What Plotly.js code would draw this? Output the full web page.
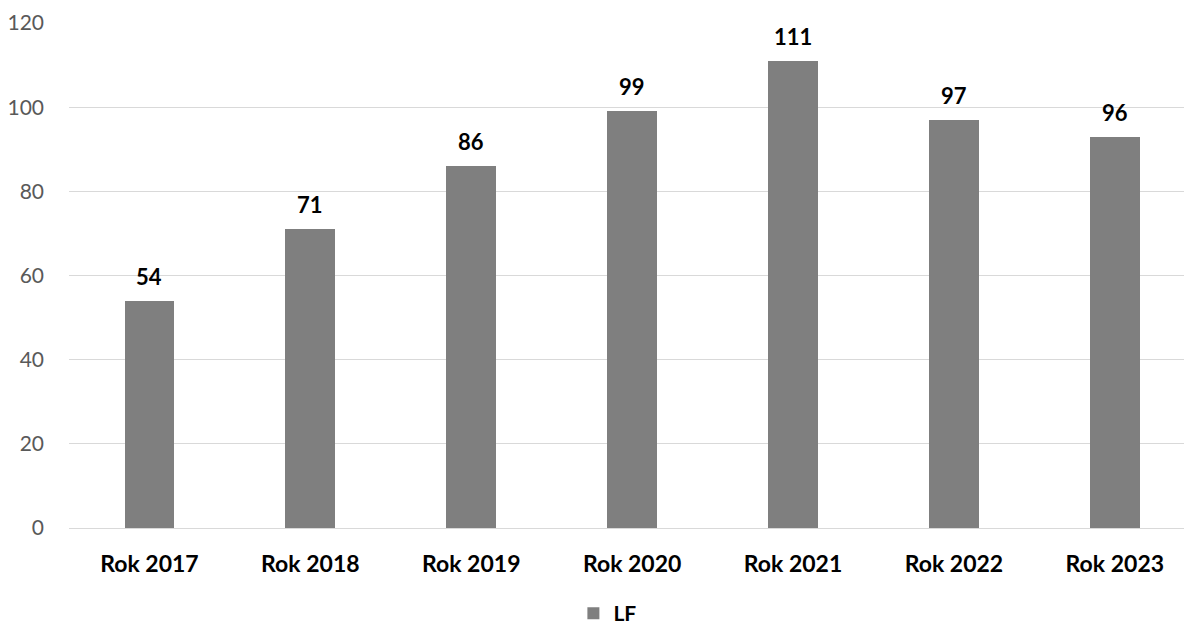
<!DOCTYPE html>
<html>
<head>
<meta charset="utf-8">
<script src="https://cdn.plot.ly/plotly-3.0.1.min.js"></script>
<style>html,body{margin:0;padding:0;background:#fff;}#chart{width:1184px;height:628px;}</style>
</head>
<body>
<div id="chart"></div>
<script>
const categories = ["Rok 2017","Rok 2018","Rok 2019","Rok 2020","Rok 2021","Rok 2022","Rok 2023"];
const barValues = [54, 71, 86, 99, 111, 97, 93];
const labelTexts = ["54","71","86","99","111","97","96"];
const seriesName = "LF";
const yTicks = [0, 20, 40, 60, 80, 100, 120];

const FONT = "Lato, 'Open Sans', sans-serif";

const trace = {
  type: "bar",
  x: categories,
  y: barValues,
  name: seriesName,
  marker: {color: "#7f7f7f"},
  width: 0.31,
  hoverinfo: "skip"
};

const annotations = categories.map((c, i) => ({
  x: c, y: barValues[i], xref: "x", yref: "y",
  text: labelTexts[i], showarrow: false,
  yanchor: "bottom", yshift: 9,
  font: {family: FONT, size: 22, color: "#000", weight: 700}
}));

const layout = {
  width: 1184, height: 628,
  margin: {l: 69, r: 0, t: 23, b: 100},
  paper_bgcolor: "#fff", plot_bgcolor: "#fff",
  font: {family: FONT, color: "#595959"},
  showlegend: true,
  legend: {orientation: "h", xref: "container", yref: "container",
           x: 0.513, xanchor: "center", y: 0.023, yanchor: "middle",
           itemwidth: 30,
           font: {size: 21, color: "#000", weight: 700}},
  xaxis: {
    type: "category", range: [-0.5, 6.43], showgrid: false, showline: false, zeroline: false,
    ticks: "", tickfont: {size: 23, color: "#000", weight: 700}, ticklabelstandoff: 20
  },
  yaxis: {
    range: [0, 120], tickvals: yTicks, ticktext: yTicks.map(String),
    showgrid: true, gridcolor: "#d9d9d9", gridwidth: 1, zeroline: true, zerolinecolor: "#d9d9d9",
    showline: false, ticks: "", tickfont: {size: 21, color: "#595959"}, ticklabelstandoff: 24
  },
  annotations: annotations,
  bargap: 0
};

Plotly.newPlot("chart", [trace], layout, {displayModeBar: false, staticPlot: true});
</script>
</body>
</html>
